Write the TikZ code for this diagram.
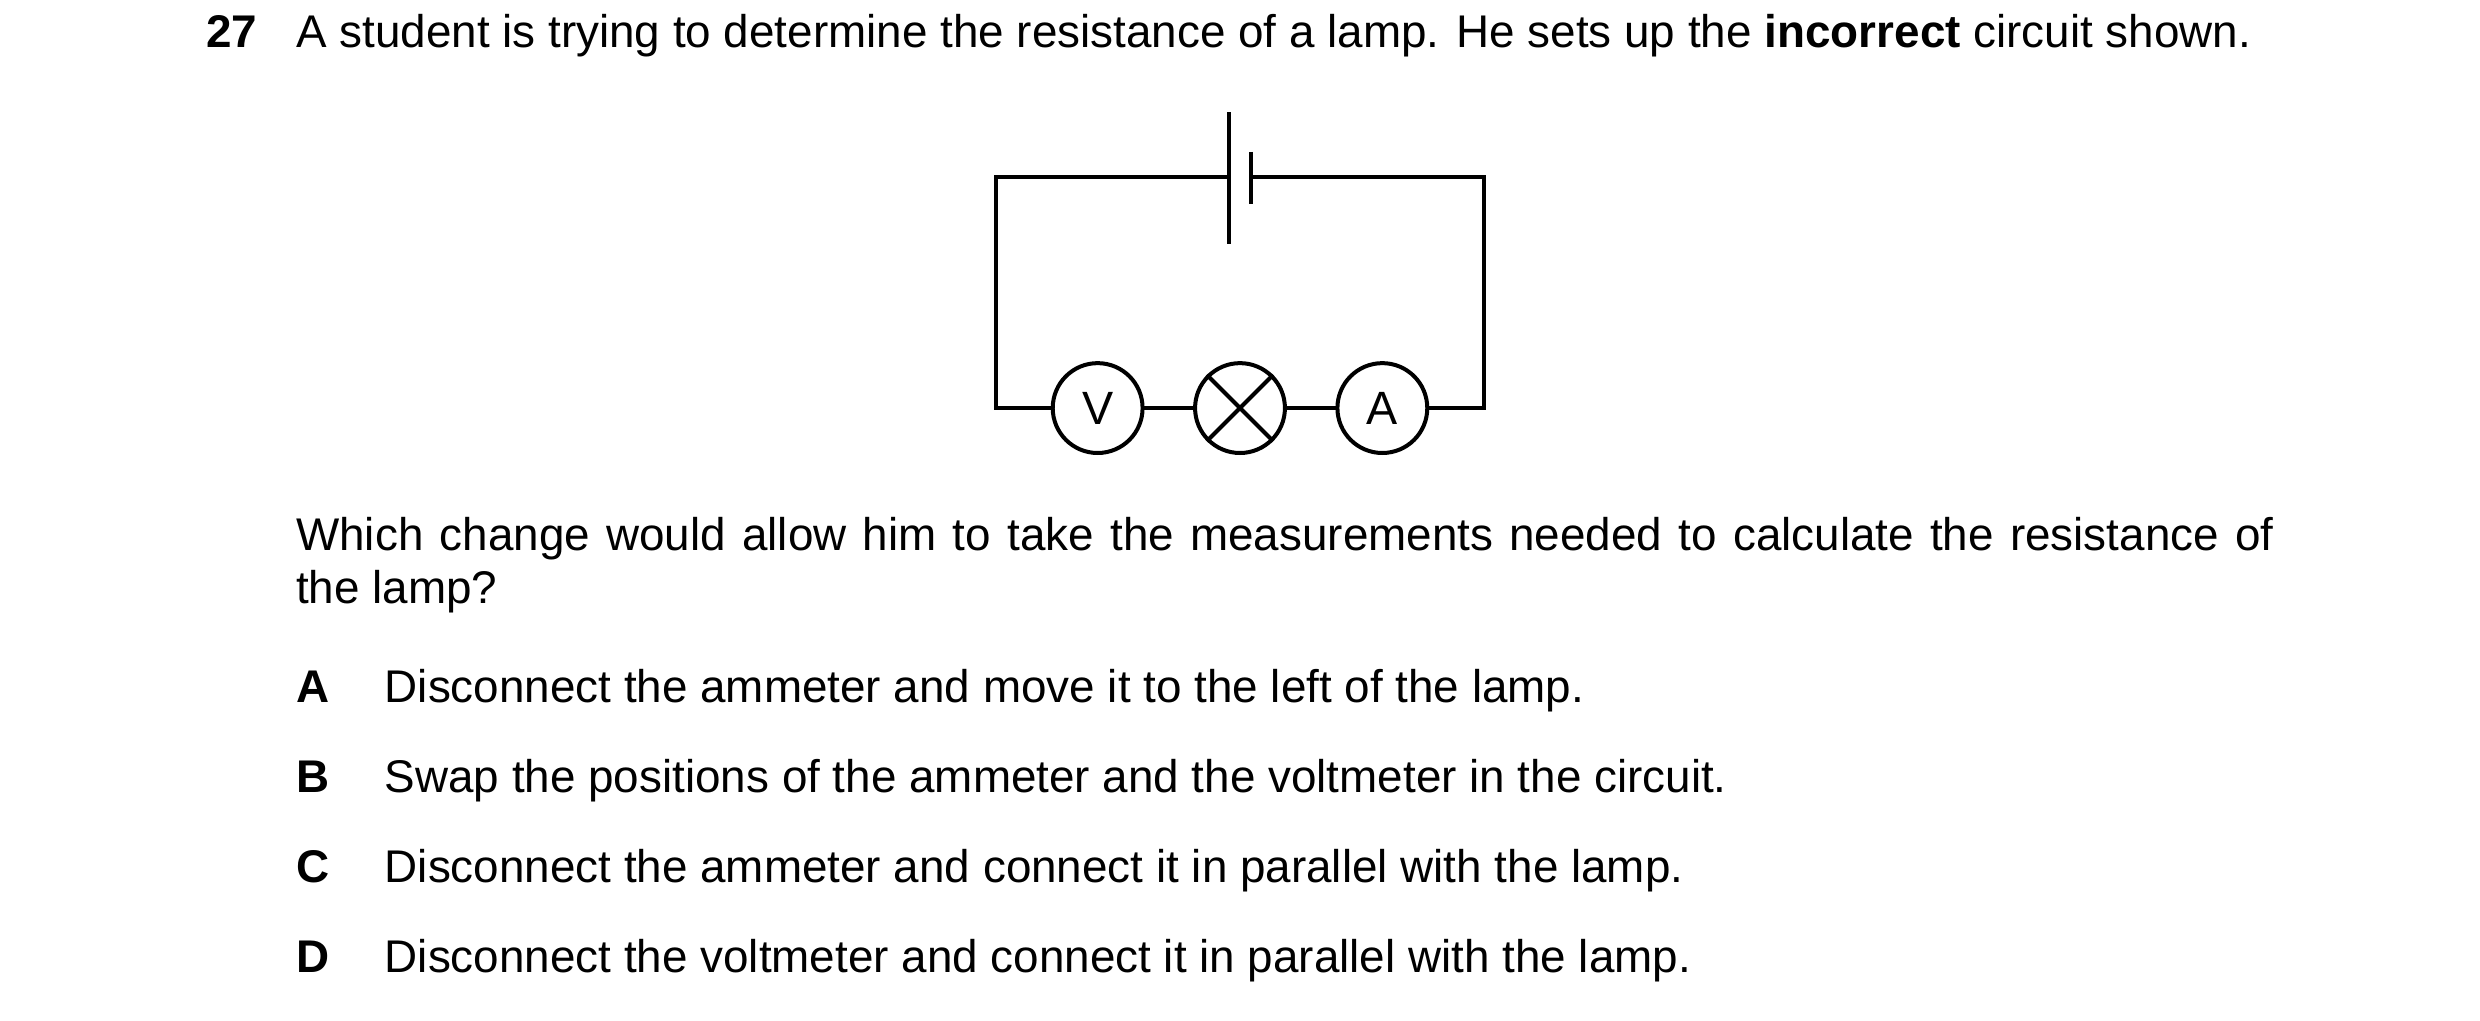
\documentclass[tikz,border=0pt]{standalone}
\usepackage{fontspec}
\setmainfont{Liberation Sans}
\begin{document}
\begin{tikzpicture}[x=0.025cm,y=-0.025cm]
	\tikzstyle{wire} = [line width=1.8pt, line cap=rect]
	\tikzstyle{meter} = [circle, draw=black, line width=1.8pt, minimum size=1.42cm, inner sep=0pt, font=\fontsize{21}{24}\selectfont]
	\tikzstyle{txt} = [anchor=base west, inner sep=0pt, font=\fontsize{20.6}{23.4}\selectfont]
	\useasboundingbox (0,0) rectangle (1568,645);

%------------------------------------------------------------
	\node[txt] (num) at (130,30) {\textbf{27}};
	\node[txt] (head) at (187,30) {A student is trying to determine the resistance of a lamp. He sets up the \textbf{incorrect} circuit shown.};

%------------------------------------------------------------
	\coordinate (tl) at (630,112);
	\coordinate (tr) at (938,112);
	\coordinate (bl) at (630,258);
	\coordinate (br) at (938,258);
	\coordinate (pl) at (777,112);
	\coordinate (pr) at (791,112);
	\coordinate (pl1) at (777,71);
	\coordinate (pl2) at (777,154);
	\coordinate (pr1) at (791,96);
	\coordinate (pr2) at (791,129);

	\node[meter] (V) at (694,258) {V};
	\node[meter] (L) at (784,258) {};
	\node[meter] (A) at (874,258) {A};

	\draw[wire] (pl) -- (tl) -- (bl) -- (V);
	\draw[wire] (pr) -- (tr) -- (br) -- (A);
	\draw[wire] (V) -- (L);
	\draw[wire] (L) -- (A);
	\draw[line width=1.8pt] (pl1) -- (pl2);
	\draw[line width=1.8pt] (pr1) -- (pr2);
	\draw[line width=1.8pt] (L.north west) -- (L.south east);
	\draw[line width=1.8pt] (L.north east) -- (L.south west);

%------------------------------------------------------------
	\node[txt, anchor=north west, text width=31.25cm, align=justify, font=\fontsize{20.6}{23.5}\selectfont] (ques) at (187,327) {Which change would allow him to take the measurements needed to calculate the resistance of\linebreak the lamp?};

	\node[txt] (la) at (187,444) {\textbf{A}};
	\node[txt] (ta) at (243,444) {Disconnect the ammeter and move it to the left of the lamp.};
	\node[txt] (lb) at (187,501) {\textbf{B}};
	\node[txt] (tb) at (243,501) {Swap the positions of the ammeter and the voltmeter in the circuit.};
	\node[txt] (lc) at (187,558) {\textbf{C}};
	\node[txt] (tc) at (243,558) {Disconnect the ammeter and connect it in parallel with the lamp.};
	\node[txt] (ld) at (187,615) {\textbf{D}};
	\node[txt] (td) at (243,615) {Disconnect the voltmeter and connect it in parallel with the lamp.};
\end{tikzpicture}
\end{document}
